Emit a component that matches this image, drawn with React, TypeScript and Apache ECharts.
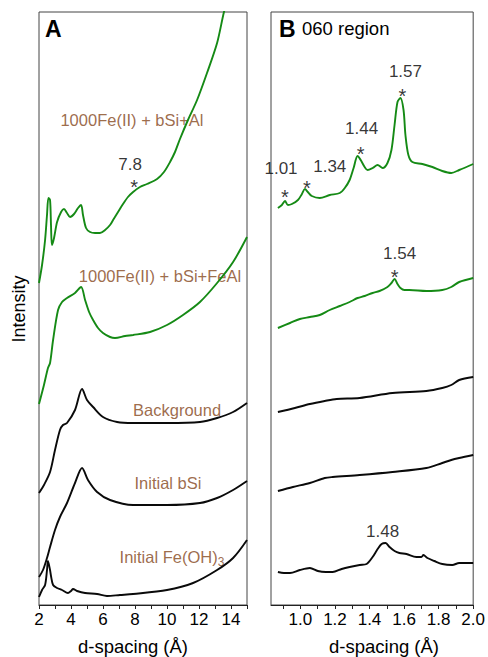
import React, { useEffect, useRef } from "react";
import * as echarts from "echarts";

// Panel A (d-spacing 2–15 Å); intensity in arbitrary offset units
const a1Al: [number, number][] = [
  [2.0, 322], [2.19, 340], [2.38, 365], [2.5, 390], [2.59, 407], [2.69, 405], [2.75, 380], [2.81, 360],
  [2.94, 367], [3.13, 383], [3.38, 393], [3.56, 396], [3.75, 392], [3.94, 388], [4.19, 391], [4.44, 397],
  [4.63, 400], [4.75, 390], [4.94, 377], [5.19, 373], [5.5, 372], [5.81, 372], [6.13, 375], [6.44, 380],
  [6.63, 385], [6.94, 393], [7.25, 401], [7.56, 408], [7.88, 413], [8.31, 418], [8.75, 421], [9.38, 426],
  [9.81, 433], [10.19, 443], [10.5, 453], [10.81, 466], [11.31, 485], [11.88, 505], [12.5, 532],
  [13.13, 562], [13.56, 593], [13.94, 615],
];
const a2FeAl: [number, number][] = [
  [2.0, 201], [2.31, 220], [2.56, 237], [2.69, 242], [2.88, 265], [3.19, 295], [3.44, 303], [3.75, 307],
  [4.25, 312], [4.63, 318], [4.88, 305], [5.13, 293], [5.38, 285], [5.69, 277], [6.0, 272], [6.44, 268],
  [6.75, 267], [7.38, 269], [7.88, 270], [8.94, 273], [10.0, 280], [11.0, 290], [12.06, 303], [13.13, 322],
  [14.13, 343], [15.0, 368],
];
const a3Background: [number, number][] = [
  [2.0, 112], [2.31, 120], [2.69, 133], [3.0, 155], [3.31, 175], [3.5, 180], [3.75, 182], [4.25, 195],
  [4.69, 216], [5.0, 205], [5.38, 198], [6.0, 188], [6.88, 183], [7.88, 182], [10.0, 182], [12.06, 183],
  [13.13, 187], [14.13, 193], [15.0, 202],
];
const a4InitialBSi: [number, number][] = [
  [2.0, 28], [2.25, 35], [2.5, 47], [2.69, 58], [3.0, 75], [3.31, 88], [3.75, 102], [4.25, 122],
  [4.69, 137], [5.06, 125], [5.63, 113], [6.44, 105], [7.88, 100], [10.0, 100], [12.06, 102], [13.13, 107],
  [14.13, 115], [15.0, 124],
];
const a5FeOH3: [number, number][] = [
  [2.0, 8], [2.19, 15], [2.38, 20], [2.5, 35], [2.56, 44], [2.69, 35], [2.75, 29], [2.88, 20], [3.13, 17],
  [3.44, 15], [3.81, 12], [4.0, 14], [4.13, 16], [4.38, 14], [4.88, 12], [5.63, 11], [6.25, 9], [7.06, 10],
  [7.88, 11], [10.0, 15], [11.63, 22], [13.13, 35], [14.13, 47], [15.0, 65],
];

// Panel B (060 region, 0.83–2.0 Å)
const b1Al: [number, number][] = [
  [0.87, 397], [0.893, 400], [0.911, 404], [0.928, 400], [0.951, 401], [0.986, 405], [1.009, 411],
  [1.026, 416], [1.043, 413], [1.066, 409], [1.112, 407], [1.17, 410], [1.228, 412], [1.257, 417],
  [1.285, 425], [1.308, 437], [1.331, 449], [1.349, 445], [1.372, 438], [1.389, 435], [1.418, 437],
  [1.447, 440], [1.476, 437], [1.504, 442], [1.527, 455], [1.545, 480], [1.562, 503], [1.579, 507],
  [1.597, 495], [1.608, 470], [1.625, 450], [1.648, 443], [1.706, 441], [1.764, 438], [1.821, 434],
  [1.873, 432], [1.919, 435], [2.0, 441],
];
const b2FeAl: [number, number][] = [
  [0.87, 277], [0.94, 282], [0.997, 286], [1.055, 288], [1.112, 290], [1.17, 295], [1.228, 299],
  [1.285, 303], [1.331, 307], [1.372, 309], [1.418, 312], [1.458, 314], [1.504, 318], [1.527, 322],
  [1.545, 326], [1.562, 321], [1.579, 317], [1.602, 315], [1.631, 315], [1.729, 314], [1.821, 315],
  [1.873, 318], [1.919, 323], [2.0, 327],
];
const b3Background: [number, number][] = [
  [0.87, 193], [0.968, 197], [1.055, 201], [1.141, 204], [1.21, 206], [1.343, 207], [1.533, 212],
  [1.729, 214], [1.821, 217], [1.873, 220], [1.919, 225], [2.0, 228],
];
const b4InitialBSi: [number, number][] = [
  [0.87, 114], [0.957, 118], [1.055, 122], [1.141, 127], [1.187, 128], [1.343, 130], [1.533, 133],
  [1.729, 137], [1.821, 142], [1.873, 145], [1.919, 147], [2.0, 150],
];
const b5FeOH3: [number, number][] = [
  [0.87, 33], [0.905, 32], [0.94, 32], [0.997, 35], [1.055, 37], [1.101, 34], [1.147, 33], [1.187, 33],
  [1.239, 36], [1.285, 38], [1.343, 40], [1.383, 41], [1.418, 48], [1.447, 56], [1.47, 61], [1.493, 62],
  [1.516, 58], [1.545, 54], [1.573, 52], [1.614, 51], [1.671, 48], [1.7, 48], [1.712, 50], [1.735, 47],
  [1.775, 44], [1.821, 41], [1.879, 40], [1.919, 42], [1.96, 42], [2.0, 42],
];

const aLabelTicks = [2, 4, 6, 8, 10, 12, 14];
const aMinorTicks = [2, 3, 4, 5, 6, 7, 8, 9, 10, 11, 12, 13, 14, 15];
const bLabelTicks = [1.0, 1.2, 1.4, 1.6, 1.8, 2.0];
const bMinorTicks = [0.9, 1.0, 1.1, 1.2, 1.3, 1.4, 1.5, 1.6, 1.7, 1.8, 1.9, 2.0];

const peakValuesA = [{ x: 7.69, y: 441, text: "7.8" }];
const peakStarsA = [{ x: 7.94, y: 418, text: "*" }];
const peakValuesB = [
  { x: 0.888, y: 437, text: "1.01" },
  { x: 1.17, y: 439, text: "1.34" },
  { x: 1.354, y: 477, text: "1.44" },
  { x: 1.608, y: 534, text: "1.57" },
  { x: 1.574, y: 352, text: "1.54" },
  { x: 1.476, y: 74, text: "1.48" },
];
const peakStarsB = [
  { x: 0.911, y: 408, text: "*" },
  { x: 1.037, y: 417, text: "*" },
  { x: 1.349, y: 451, text: "*" },
  { x: 1.591, y: 509, text: "*" },
  { x: 1.545, y: 328, text: "*" },
];
const sampleNames = [
  { x: 7.81, y: 485, text: "1000Fe(II) + bSi+Al" },
  { x: 9.56, y: 329, text: "1000Fe(II) + bSi+FeAl" },
  { x: 10.63, y: 195, text: "Background" },
  { x: 10.06, y: 122, text: "Initial bSi" },
  { x: 10.31, y: 48, text: "{a|Initial Fe(OH)}{s|3}" },
];

const FONT = '"Liberation Sans", Arial, Helvetica, sans-serif';
const GREEN = "#158a15";
const BLACK = "#0a0a0a";
const BROWN = "#84461a";

export default function App() {
  const ref = useRef<HTMLDivElement>(null);
  useEffect(() => {
    if (!ref.current) return;
    const chart = echarts.init(ref.current, undefined, { renderer: "svg" });

    const lineSeries = (data: [number, number][], color: string, idx: number) => ({
      type: "line",
      xAxisIndex: idx,
      yAxisIndex: idx,
      data,
      symbol: "none",
      smooth: 0.3,
      clip: true,
      lineStyle: { color, width: 1.9 },
      silent: true,
    });
    const noteSeries = (notes: { x: number; y: number; text: string }[], idx: number, color: string, size: number) => ({
      type: "scatter",
      xAxisIndex: idx,
      yAxisIndex: idx,
      symbolSize: 1,
      clip: false,
      silent: true,
      itemStyle: { color: "transparent" },
      data: notes.map((n) => ({
        value: [n.x, n.y],
        label: { formatter: n.text },
      })),
      label: {
        show: true,
        position: "inside",
        fontFamily: FONT,
        fontSize: size,
        color,
        rich: {
          a: { fontFamily: FONT, fontSize: size, color },
          s: { fontFamily: FONT, fontSize: 12, color, padding: [10, 0, 0, 0] },
        },
      },
    });

    const xAxisCommon = {
      type: "value",
      axisLine: { show: true, onZero: false, lineStyle: { color: "#222", width: 1 } },
      splitLine: { show: false },
      axisLabel: { fontFamily: FONT, fontSize: 17, color: "#000", margin: 6 },
      axisTick: { show: true, inside: false, length: 4, lineStyle: { color: "#222" } },
    };

    chart.setOption({
      animation: false,
      backgroundColor: "#ffffff",
      grid: [
        { left: 39, top: 12, width: 208, height: 593, show: true, borderColor: "#444", borderWidth: 1, backgroundColor: "transparent" },
        { left: 271, top: 12, width: 203, height: 593, show: true, borderColor: "#444", borderWidth: 1, backgroundColor: "transparent" },
      ],
      xAxis: [
        {
          ...xAxisCommon,
          gridIndex: 0,
          min: 2,
          max: 15,
          axisLabel: { ...xAxisCommon.axisLabel, customValues: aLabelTicks, formatter: (v: number) => String(v) },
          axisTick: { ...xAxisCommon.axisTick, customValues: aMinorTicks },
        },
        {
          ...xAxisCommon,
          gridIndex: 1,
          min: 0.83,
          max: 2.0,
          axisLabel: { ...xAxisCommon.axisLabel, customValues: bLabelTicks, formatter: (v: number) => v.toFixed(1) },
          axisTick: { ...xAxisCommon.axisTick, customValues: bMinorTicks },
        },
      ],
      yAxis: [
        { type: "value", gridIndex: 0, min: 0, max: 593, show: false, splitLine: { show: false } },
        { type: "value", gridIndex: 1, min: 0, max: 593, show: false, splitLine: { show: false } },
      ],
      series: [
        lineSeries(a1Al, GREEN, 0),
        lineSeries(a2FeAl, GREEN, 0),
        lineSeries(a3Background, BLACK, 0),
        lineSeries(a4InitialBSi, BLACK, 0),
        lineSeries(a5FeOH3, BLACK, 0),
        lineSeries(b1Al, GREEN, 1),
        lineSeries(b2FeAl, GREEN, 1),
        lineSeries(b3Background, BLACK, 1),
        lineSeries(b4InitialBSi, BLACK, 1),
        lineSeries(b5FeOH3, BLACK, 1),
        noteSeries(peakValuesA, 0, "#000", 17),
        noteSeries(peakStarsA, 0, "#000", 20),
        noteSeries(peakValuesB, 1, "#000", 17),
        noteSeries(peakStarsB, 1, "#000", 20),
        noteSeries(sampleNames, 0, BROWN, 16.5),
      ],
      graphic: [
        { type: "text", x: 45, y: 29, style: { text: "A", fontFamily: FONT, fontSize: 23, fontWeight: "bold", fill: "#000", verticalAlign: "middle" } },
        { type: "text", x: 279, y: 29, style: { text: "B", fontFamily: FONT, fontSize: 23, fontWeight: "bold", fill: "#000", verticalAlign: "middle" } },
        { type: "text", x: 302, y: 28, style: { text: "060 region", fontFamily: FONT, fontSize: 18.5, fill: "#000", verticalAlign: "middle" } },
        { type: "text", x: 19, y: 309, rotation: Math.PI / 2, style: { text: "Intensity", fontFamily: FONT, fontSize: 18, fill: "#000", align: "center", verticalAlign: "middle" } },
        { type: "text", x: 133, y: 646, style: { text: "d-spacing (Å)", fontFamily: FONT, fontSize: 18.5, fill: "#000", align: "center", verticalAlign: "middle" } },
        { type: "text", x: 384, y: 646, style: { text: "d-spacing (Å)", fontFamily: FONT, fontSize: 18.5, fill: "#000", align: "center", verticalAlign: "middle" } },
      ],
    });
    return () => chart.dispose();
  }, []);
  return (
    <div
      ref={ref}
      style={{ position: "absolute", left: 0, top: 0, width: 488, height: 657, background: "#fff" }}
    />
  );
}
